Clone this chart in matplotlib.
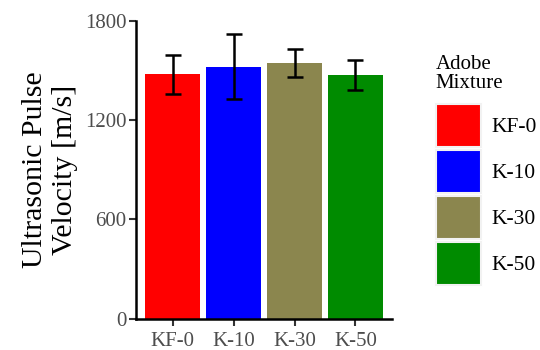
import matplotlib
matplotlib.use("Agg")
import matplotlib.pyplot as plt
from matplotlib.patches import Patch

plt.rcParams['font.family'] = ['Liberation Serif', 'DejaVu Serif']

# data
mixtures = ['KF-0', 'K-10', 'K-30', 'K-50']
velocity = [1475, 1521, 1543, 1472]
velocity_err = [118, 196, 85, 92]
colors = ['#FF0000', '#0000FF', '#8B864E', '#008B00']
y_ticks = [0, 600, 1200, 1800]

fig = plt.figure(figsize=(5.4, 3.5), dpi=100)
ax = fig.add_axes([0.252, 0.09, 0.474, 0.851])

x = list(range(len(mixtures)))
ax.bar(x, velocity, width=0.9, color=colors, zorder=2)
ax.errorbar(x, velocity, yerr=velocity_err, fmt='none', ecolor='black',
            elinewidth=1.8, capsize=5.6, capthick=1.8, zorder=3)

ax.set_xlim(-0.6, 3.6)
ax.set_ylim(0, 1800)
ax.set_xticks(x)
ax.set_xticklabels(mixtures)
ax.set_yticks(y_ticks)
ax.tick_params(axis='both', colors='#333333', labelcolor='#4D4D4D',
               labelsize=15, length=5, width=1.5, pad=2)
ax.tick_params(axis='x', pad=5)

for side in ['top', 'right']:
    ax.spines[side].set_visible(False)
for side in ['left', 'bottom']:
    ax.spines[side].set_linewidth(1.8)
    ax.spines[side].set_color('black')

ax.set_ylabel('Ultrasonic Pulse\nVelocity [m/s]', fontsize=21.5, labelpad=5,
              linespacing=1.2)

handles = [Patch(facecolor=c, edgecolor='#F2F2F2', linewidth=1.5) for c in colors]
leg = fig.legend(handles, mixtures, loc='upper left', bbox_to_anchor=(0.807, 0.842),
                 frameon=False, fontsize=15.5, title='Adobe\nMixture',
                 title_fontsize=15, handlelength=2.1, handleheight=2.66,
                 labelspacing=0.16, handletextpad=0.5, borderaxespad=0,
                 borderpad=0)
leg._legend_box.align = 'left'
leg._legend_box.sep = 8
leg.get_title().set_linespacing(1.0)

fig.savefig('out.png', dpi=100)
